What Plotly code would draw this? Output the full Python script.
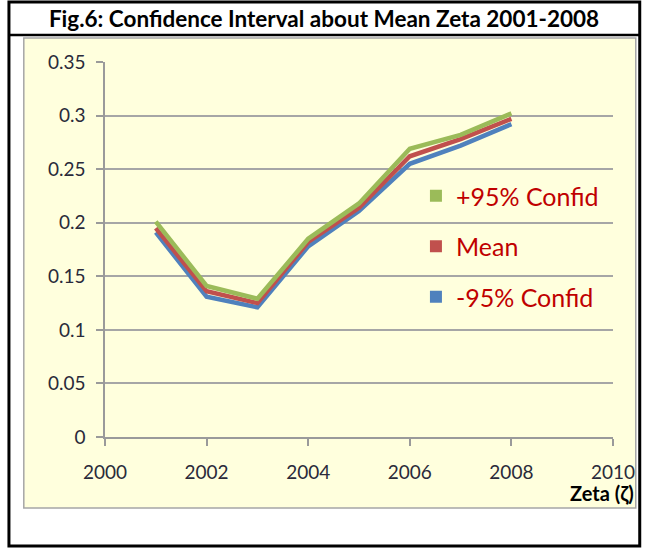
import plotly.graph_objects as go

years = [2001, 2002, 2003, 2004, 2005, 2006, 2007, 2008]
upper95 = [0.201, 0.141, 0.129, 0.185, 0.218, 0.269, 0.282, 0.302]
mean_zeta = [0.195, 0.136, 0.125, 0.182, 0.214, 0.262, 0.278, 0.297]
lower95 = [0.191, 0.131, 0.121, 0.178, 0.211, 0.255, 0.272, 0.292]
series_names = ["+95% Confid", "Mean", "-95% Confid"]
series_colors = ["#9BBB59", "#C0504D", "#4F81BD"]
y_ticks = [0, 0.05, 0.1, 0.15, 0.2, 0.25, 0.3, 0.35]
y_ticktext = ["0", "0.05", "0.1", "0.15", "0.2", "0.25", "0.3", "0.35"]
x_ticks = [2000, 2002, 2004, 2006, 2008, 2010]

W, H = 647, 550
PL, PR, PT, PB = 105, 618, 62, 437  # plot area in pixels

def px(x):
    return (x - PL) / (PR - PL)

def py(y):
    return (PB - y) / (PB - PT)

fig = go.Figure()

# lines (blue first, green on top)
for name, vals, col in [(series_names[2], lower95, series_colors[2]),
                        (series_names[1], mean_zeta, series_colors[1]),
                        (series_names[0], upper95, series_colors[0])]:
    fig.add_trace(go.Scatter(x=years, y=vals, mode="lines", name=name,
                             line=dict(color=col, width=4.5),
                             showlegend=False))

# legend entries with square markers
for i, (name, col) in enumerate(zip(series_names, series_colors)):
    fig.add_trace(go.Scatter(x=[None], y=[None], mode="markers", name=name,
                             marker=dict(symbol="square", size=12, color=col),
                             legendgroup=f"g{i}", showlegend=True))

shapes = []
# yellow chart area
shapes.append(dict(type="rect", xref="paper", yref="paper",
                   x0=px(23), x1=px(641), y0=py(508), y1=py(38),
                   fillcolor="#FFFFDD", line=dict(color="#A6A6A6", width=1.5),
                   layer="below"))
# outer black frame
shapes.append(dict(type="rect", xref="paper", yref="paper",
                   x0=px(8), x1=px(645), y0=py(546), y1=py(2),
                   line=dict(color="black", width=3), fillcolor="rgba(0,0,0,0)",
                   layer="below"))
# title bar separator
shapes.append(dict(type="line", xref="paper", yref="paper",
                   x0=px(8), x1=px(645), y0=py(35), y1=py(35),
                   line=dict(color="black", width=2.5)))

fig.update_layout(
    width=W, height=H,
    margin=dict(l=PL, r=W - PR, t=PT, b=H - PB, pad=0),
    paper_bgcolor="white",
    plot_bgcolor="#FFFFDD",
    shapes=shapes,
    title=dict(text="<b>Fig.6: Confidence Interval about Mean Zeta 2001-2008</b>",
               x=324 / W, xref="container", xanchor="center",
               y=1 - 19 / H, yref="container", yanchor="middle",
               font=dict(family="Lato", size=22.5, color="black")),
    legend=dict(x=px(419), y=py(173), xanchor="left", yanchor="top",
                bgcolor="rgba(0,0,0,0)", borderwidth=0,
                font=dict(family="Lato", size=25, color="#C00000"),
                tracegroupgap=15, traceorder="grouped"),
    showlegend=True,
    xaxis=dict(range=[2000, 2010], tickvals=x_ticks, showgrid=False,
               showline=True, linecolor="#9A9A9A", linewidth=1.5,
               ticks="outside", ticklen=7, tickcolor="#9A9A9A", tickwidth=1.5,
               zeroline=False,
               tickfont=dict(family="Lato", size=19, color="#2A2A3A"),
               ticklabelstandoff=10),
    yaxis=dict(range=[0, 0.35], tickvals=y_ticks, ticktext=y_ticktext,
               showgrid=True, gridcolor="#A6A6A6", gridwidth=1.5,
               showline=True, linecolor="#9A9A9A", linewidth=1.5,
               ticks="outside", ticklen=7, tickcolor="#9A9A9A", tickwidth=1.5,
               zeroline=False,
               tickfont=dict(family="Lato", size=19, color="#2A2A3A"),
               ticklabelstandoff=7),
    annotations=[dict(text="<b>Zeta (ζ)</b>", xref="paper", yref="paper",
                      x=px(641), y=py(493), xanchor="right", yanchor="middle",
                      showarrow=False,
                      font=dict(family="Lato", size=20, color="black"))],
)

fig.write_html("out.html",
               config={"displayModeBar": False},
               post_script="document.body.style.margin='0';"
                           "document.body.style.overflow='hidden';")
